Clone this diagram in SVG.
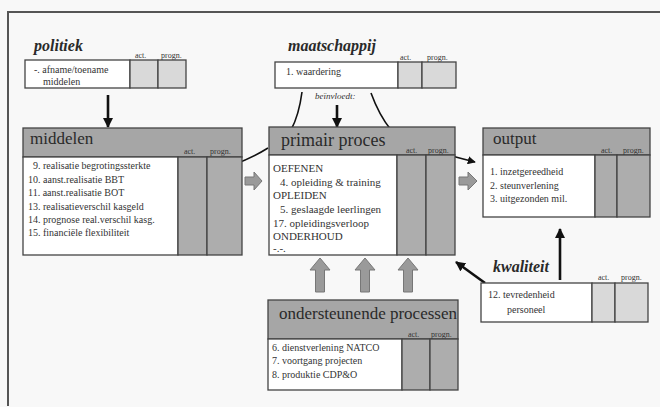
<svg xmlns="http://www.w3.org/2000/svg" width="660" height="407" viewBox="0 0 660 407">
  <defs>
    <style>
      .bg { fill: #f8f8f8; }
      .frame { fill: none; stroke: #555; stroke-width: 2; }
      .box { fill: #fff; stroke: #444; stroke-width: 1.3; }
      .hdr { fill: #a6a6a6; stroke: #444; stroke-width: 1.3; }
      .col { fill: #adadad; stroke: #444; stroke-width: 1.3; }
      .lcol { fill: #d9d9d9; stroke: #444; stroke-width: 1.3; }
      text { font-family: "Liberation Serif", "DejaVu Serif", "Times New Roman", Times, serif; fill: #333; }
      .title { font-size: 17px; fill: #2a2a2a; }
      .lbl { font-size: 16px; font-style: italic; font-weight: bold; fill: #2a2a2a; }
      .item { font-size: 10px; }
      .itemL { font-size: 11px; }
      .tiny { font-size: 8px; }
      .ital { font-size: 9px; font-style: italic; }
      .arr { fill: none; stroke: #111; stroke-width: 2.6; }
      .crv { fill: none; stroke: #111; stroke-width: 1.6; }
      .blk { fill: #9a9a9a; stroke: #777; stroke-width: 1; }
    </style>
    <marker id="head" viewBox="0 0 10 10" refX="9" refY="5" markerWidth="10" markerHeight="10" markerUnits="userSpaceOnUse" orient="auto">
      <path d="M0,0 L10,5 L0,10 Z" fill="#111"/>
    </marker>
    <marker id="headS" viewBox="0 0 10 10" refX="9" refY="5" markerWidth="8" markerHeight="8" markerUnits="userSpaceOnUse" orient="auto">
      <path d="M0,0 L10,5 L0,10 Z" fill="#111"/>
    </marker>
  </defs>

  <rect class="bg" x="0" y="0" width="660" height="407"/>
  <path class="frame" d="M8,406 V12 H660"/>

  <!-- connectors (drawn first so boxes sit on top) -->
  <g id="connectors">
    <path class="arr" d="M108,95 V127" marker-end="url(#head)"/>
    <path class="arr" d="M337,105 V127" marker-end="url(#head)"/>
    <path class="crv" d="M302,92 Q299,115 291,130"/>
    <path class="crv" d="M268,148 Q225,175 152,181" marker-end="url(#headS)"/>
    <path class="crv" d="M371,93 Q379,115 391,130"/>
    <path class="crv" d="M452,156 Q463,159 475,162" marker-end="url(#headS)"/>
    <path class="arr" d="M560,280 V229" marker-end="url(#head)"/>
    <path class="arr" d="M485,283 L456,262" marker-end="url(#head)"/>
    <polygon class="blk" points="245,177 254,177 254,172 262,181 254,190 254,185 245,185"/>
    <polygon class="blk" points="459,177 468,177 468,172 477,181 468,190 468,185 459,185"/>
    <polygon class="blk" points="320,258 330,270 324.5,270 324.5,292 315.5,292 315.5,270 310,270"/>
    <polygon class="blk" points="365,258 375,270 369.5,270 369.5,292 360.5,292 360.5,270 355,270"/>
    <polygon class="blk" points="408,258 418,270 412.5,270 412.5,292 403.5,292 403.5,270 398,270"/>
  </g>

  <!-- politiek -->
  <g id="politiek">
    <text class="lbl" x="34" y="51">politiek</text>
    <text class="tiny" x="135" y="58">act.</text>
    <text class="tiny" x="161" y="58">progn.</text>
    <rect class="box" x="25" y="60" width="105" height="28"/>
    <rect class="lcol" x="130" y="60" width="28" height="28"/>
    <rect class="lcol" x="158" y="60" width="28" height="28"/>
    <text class="item" x="34" y="73">-. afname/toename</text>
    <text class="item" x="43" y="85">middelen</text>
  </g>

  <!-- maatschappij -->
  <g id="maatschappij">
    <text class="lbl" x="288" y="51">maatschappij</text>
    <text class="tiny" x="400" y="60">act.</text>
    <text class="tiny" x="427" y="60">progn.</text>
    <rect class="box" x="275" y="62" width="123" height="26"/>
    <rect class="lcol" x="398" y="62" width="24" height="26"/>
    <rect class="lcol" x="422" y="62" width="34" height="26"/>
    <text class="item" x="286" y="75">1. waardering</text>
    <text class="ital" x="315" y="99">beïnvloedt:</text>
  </g>

  <!-- middelen -->
  <g id="middelen">
    <rect class="hdr" x="23" y="128" width="219" height="29"/>
    <text class="title" x="30" y="144">middelen</text>
    <text class="tiny" x="184" y="154">act.</text>
    <text class="tiny" x="210" y="154">progn.</text>
    <rect class="box" x="23" y="157" width="155" height="98"/>
    <rect class="col" x="178" y="157" width="29" height="98"/>
    <rect class="col" x="207" y="157" width="35" height="98"/>
    <text class="item" x="33" y="169">9.  realisatie begrotingssterkte</text>
    <text class="item" x="28" y="183">10. aanst.realisatie BBT</text>
    <text class="item" x="28" y="196">11. aanst.realisatie BOT</text>
    <text class="item" x="28" y="210">13. realisatieverschil kasgeld</text>
    <text class="item" x="28" y="223">14. prognose real.verschil kasg.</text>
    <text class="item" x="28" y="236">15. financiële flexibiliteit</text>
  </g>

  <!-- primair proces -->
  <g id="primair">
    <rect class="hdr" x="269" y="127" width="186" height="28"/>
    <text class="title" x="281" y="146" style="font-size:18px">primair proces</text>
    <text class="tiny" x="406" y="153">act.</text>
    <text class="tiny" x="428" y="153">progn.</text>
    <rect class="box" x="269" y="155" width="128" height="100"/>
    <rect class="col" x="397" y="155" width="29" height="100"/>
    <rect class="col" x="426" y="155" width="29" height="100"/>
    <text class="itemL" x="273" y="172">OEFENEN</text>
    <text class="itemL" x="280" y="186">4. opleiding &amp; training</text>
    <text class="itemL" x="273" y="199">OPLEIDEN</text>
    <text class="itemL" x="280" y="213">5. geslaagde leerlingen</text>
    <text class="itemL" x="273" y="227">17. opleidingsverloop</text>
    <text class="itemL" x="273" y="240">ONDERHOUD</text>
    <text class="itemL" x="273" y="252">-.-.</text>
  </g>

  <!-- output -->
  <g id="output">
    <rect class="hdr" x="483" y="128" width="167" height="27"/>
    <text class="title" x="493" y="144">output</text>
    <text class="tiny" x="601" y="153">act.</text>
    <text class="tiny" x="623" y="153">progn.</text>
    <rect class="box" x="483" y="155" width="112" height="62"/>
    <rect class="col" x="595" y="155" width="22" height="62"/>
    <rect class="col" x="617" y="155" width="33" height="62"/>
    <text class="item" x="490" y="175">1. inzetgereedheid</text>
    <text class="item" x="490" y="189">2. steunverlening</text>
    <text class="item" x="490" y="202">3. uitgezonden mil.</text>
  </g>

  <!-- kwaliteit -->
  <g id="kwaliteit">
    <text class="lbl" x="493" y="272">kwaliteit</text>
    <text class="tiny" x="598" y="280">act.</text>
    <text class="tiny" x="621" y="280">progn.</text>
    <rect class="box" x="481" y="283" width="111" height="39"/>
    <rect class="lcol" x="592" y="283" width="23" height="39"/>
    <rect class="lcol" x="615" y="283" width="33" height="39"/>
    <text class="item" x="488" y="298">12. tevredenheid</text>
    <text class="item" x="507" y="313">personeel</text>
  </g>

  <!-- ondersteunende processen -->
  <g id="ondersteunend">
    <rect class="hdr" x="268" y="300" width="190" height="39"/>
    <text class="title" x="279" y="319">ondersteunende processen</text>
    <text class="tiny" x="408" y="337">act.</text>
    <text class="tiny" x="431" y="337">progn.</text>
    <rect class="box" x="268" y="339" width="134" height="51"/>
    <rect class="col" x="402" y="339" width="28" height="51"/>
    <rect class="col" x="430" y="339" width="28" height="51"/>
    <text class="item" x="272" y="351">6. dienstverlening NATCO</text>
    <text class="item" x="272" y="364">7. voortgang projecten</text>
    <text class="item" x="272" y="378">8. produktie CDP&amp;O</text>
  </g>
</svg>
